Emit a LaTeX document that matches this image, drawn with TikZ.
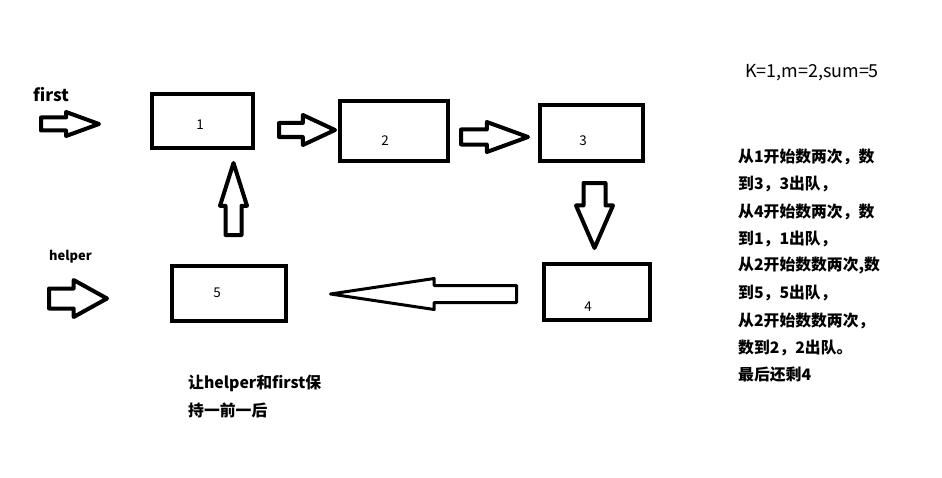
\documentclass[tikz,border=0pt]{standalone}
\usepackage{fontspec}
\setmainfont{Noto Sans CJK SC}
\usetikzlibrary{shapes.arrows,positioning}
\tikzset{
  bx/.style={draw,line width=0.12cm,inner sep=0pt},
  num/.style={font=\fontsize{11.5}{13}\selectfont,inner sep=0pt},
  blk/.style={single arrow,draw,fill=white,line width=0.12cm,line join=round,inner xsep=0pt,minimum width=0pt,anchor=tail},
  zh/.style={font=\bfseries\fontsize{13.5}{16}\selectfont,inner sep=0pt,anchor=west}
}
\begin{document}
\begin{tikzpicture}[x=0.03cm,y=-0.03cm]
\useasboundingbox[fill=white] (0,0) rectangle (942,478);
% boxes
\node[bx,minimum width=3.03cm,minimum height=1.62cm] (b1) at (202.5,121) {};
\node[bx,minimum width=3.24cm,minimum height=1.80cm] (b2) at (394,131) {};
\node[bx,minimum width=3.09cm,minimum height=1.68cm] (b3) at (591.5,133) {};
\node[bx,minimum width=3.18cm,minimum height=1.68cm] (b4) at (597,292) {};
\node[bx,minimum width=3.42cm,minimum height=1.65cm] (b5) at (229,293.5) {};
\foreach \xx/\yy/\l in {200/125/1,385/141/2,583/141/3,588/307/4,217/293/5}{\node[num] (t\l) at (\xx,\yy) {\l};}
% block arrows
\node[blk,minimum height=1.74cm,inner ysep=0.135cm,single arrow head extend=0.165cm,single arrow tip angle=40] (fa) at (39,124) {};
\node[blk,minimum height=1.68cm,inner ysep=0.15cm,single arrow head extend=0.24cm,single arrow tip angle=50] (a12) at (277,130) {};
\node[blk,minimum height=2.01cm,inner ysep=0.165cm,single arrow head extend=0.225cm,single arrow tip angle=40] (a23) at (459,137) {};
\node[blk,rotate=-90,minimum height=1.95cm,inner ysep=0.27cm,single arrow head extend=0.225cm,single arrow tip angle=47] (a34) at (594.5,181) {};
\node[blk,rotate=180,line width=0.09cm,minimum height=5.58cm,inner ysep=0.21cm,single arrow head extend=0.21cm,single arrow tip angle=17] (a45) at (518,294) {};
\node[blk,rotate=90,minimum height=2.16cm,inner ysep=0.18cm,single arrow head extend=0.165cm,single arrow tip angle=35] (a51) at (233.5,237) {};
\node[blk,minimum height=1.74cm,inner ysep=0.24cm,single arrow head extend=0.255cm,single arrow tip angle=58] (ha) at (47,298.5) {};
% labels
\node[font=\bfseries\fontsize{14.5}{16}\selectfont,inner sep=0pt,anchor=west] (first) at (33,95) {first};
\node[font=\bfseries\fontsize{11}{13}\selectfont,inner sep=0pt,anchor=west] (helper) at (49,257) {helper};
\node[font=\fontsize{15.3}{17}\selectfont,inner sep=0pt,anchor=west] (kms) at (745,73) {K=1,m=2,sum=5};
\foreach \i/\s in {0/{从1开始数两次，数},1/{到3，3出队，},2/{从4开始数两次，数},3/{到1，1出队，},4/{从2开始数数两次,数},5/{到5，5出队，},6/{从2开始数数两次，},7/{数到2，2出队。},8/{最后还剩4}}{\node[zh] (s\i) at (738,157+27.25*\i) {\s};}
\node[zh] (n1) at (188,383) {让helper和first保};
\node[zh] (n2) at (188,410) {持一前一后};
\end{tikzpicture}
\end{document}
